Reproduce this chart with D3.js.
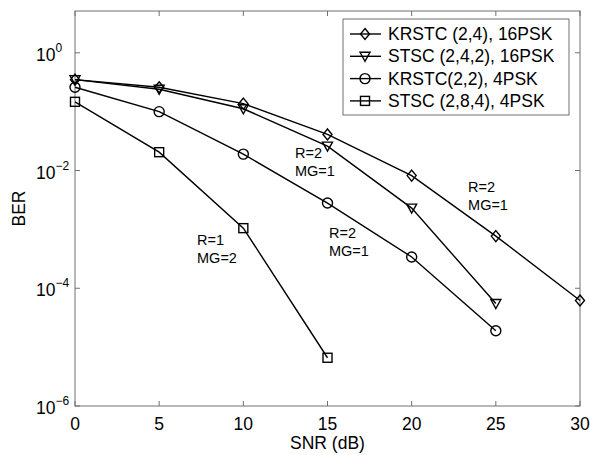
<!DOCTYPE html>
<html>
<head>
  <script src="https://d3js.org/d3.v7.min.js"></script>
  <style>
    body { margin: 0; background: #fff; }
    text { font-family: "Liberation Sans", Arial, sans-serif; fill: #000; }
  </style>
</head>
<body>
  <script>
    // SNR points (dB)
    var snr = [0, 5, 10, 15, 20, 25, 30];

    // BER values
    var krstc24 = [0.35, 0.26, 0.137, 0.041, 0.0082, 7.7e-4, 6.2e-5];
    var stsc242 = [0.35, 0.24, 0.112, 0.026, 2.3e-3, 5.5e-5];
    var krstc22 = [0.26, 0.10, 0.019, 2.8e-3, 3.4e-4, 1.9e-5];
    var stsc284 = [0.147, 0.0205, 1.05e-3, 6.6e-6];

    var seriesNames = ["KRSTC (2,4), 16PSK", "STSC (2,4,2), 16PSK", "KRSTC(2,2), 4PSK", "STSC (2,8,4), 4PSK"];
    var seriesMarkers = ["diamond", "triangle", "circle", "square"];
    var seriesValues = [krstc24, stsc242, krstc22, stsc284];

    var xTicks = [0, 5, 10, 15, 20, 25, 30];
    var yTickExps = [0, -2, -4, -6];

    // text notes: [snr, log10 BER of first baseline, line1, line2]
    var notes = [
      [13.07, -1.79, "R=2", "MG=1"],
      [23.35, -2.37, "R=2", "MG=1"],
      [15.09, -3.15, "R=2", "MG=1"],
      [7.25, -3.27, "R=1", "MG=2"]
    ];

    var W = 590, H = 455;
    var margin = {left: 75, right: 10, top: 11, bottom: 49};

    var svg = d3.select("body").append("svg")
      .attr("width", W).attr("height", H);

    var x = d3.scaleLinear().domain([0, 30]).range([margin.left, W - margin.right]);
    var y = d3.scaleLog().domain([1e-6, Math.pow(10, 0.71)]).range([H - margin.bottom, margin.top]);

    var x0 = x.range()[0], x1 = x.range()[1];
    var yb = y.range()[0], yt = y.range()[1];

    // axes box
    var axisColor = "#707070";
    svg.append("rect")
      .attr("x", x0).attr("y", yt)
      .attr("width", x1 - x0).attr("height", yb - yt)
      .attr("fill", "none").attr("stroke", axisColor).attr("stroke-width", 1);

    // x ticks (bottom and top, inward)
    xTicks.forEach(function(t){
      svg.append("line").attr("x1", x(t)).attr("x2", x(t)).attr("y1", yb).attr("y2", yb - 5)
        .attr("stroke", axisColor);
      svg.append("line").attr("x1", x(t)).attr("x2", x(t)).attr("y1", yt).attr("y2", yt + 5)
        .attr("stroke", axisColor);
      svg.append("text").attr("x", x(t)).attr("y", yb + 24)
        .attr("text-anchor", "middle").style("font-size", "17.5px").text(t);
    });

    // y ticks with 10^n labels
    yTickExps.forEach(function(e){
      var v = Math.pow(10, e);
      svg.append("line").attr("x1", x0).attr("x2", x0 + 5).attr("y1", y(v)).attr("y2", y(v))
        .attr("stroke", axisColor);
      svg.append("line").attr("x1", x1).attr("x2", x1 - 5).attr("y1", y(v)).attr("y2", y(v))
        .attr("stroke", axisColor);
      var t = svg.append("text").attr("x", 36).attr("y", y(v) + 8)
        .style("font-size", "17.5px");
      t.append("tspan").text("10");
      t.append("tspan").attr("dy", -9).style("font-size", "12px").text(e === 0 ? "0" : "\u2212" + (-e));
    });

    // axis titles
    svg.append("text").attr("x", (x0 + x1) / 2).attr("y", H - 6)
      .attr("text-anchor", "middle").style("font-size", "17.5px").text("SNR (dB)");
    svg.append("text")
      .attr("transform", "translate(25," + ((yt + yb) / 2) + ") rotate(-90)")
      .attr("text-anchor", "middle").style("font-size", "17.5px").text("BER");

    // marker shapes
    function drawMarker(g, kind, cx, cy) {
      if (kind === "diamond") {
        g.append("path").attr("d", "M" + cx + "," + (cy - 5.5) + "L" + (cx + 4.5) + "," + cy +
          "L" + cx + "," + (cy + 5.5) + "L" + (cx - 4.5) + "," + cy + "Z");
      } else if (kind === "triangle") {
        g.append("path").attr("d", "M" + (cx - 5) + "," + (cy - 4) + "L" + (cx + 5) + "," + (cy - 4) +
          "L" + cx + "," + (cy + 5) + "Z");
      } else if (kind === "circle") {
        g.append("circle").attr("cx", cx).attr("cy", cy).attr("r", 5);
      } else {
        g.append("rect").attr("x", cx - 4.5).attr("y", cy - 4.5).attr("width", 9).attr("height", 9);
      }
    }

    var line = d3.line()
      .x(function(d, i){ return x(snr[i]); })
      .y(function(d){ return y(d); });

    seriesValues.forEach(function(vals, k){
      var g = svg.append("g")
        .attr("fill", "none").attr("stroke", "#000").attr("stroke-width", 1.4);
      g.append("path").attr("d", line(vals));
      vals.forEach(function(v, i){ drawMarker(g, seriesMarkers[k], x(snr[i]), y(v)); });
    });

    // annotations
    notes.forEach(function(n){
      var nx = x(n[0]), ny = y(Math.pow(10, n[1]));
      svg.append("text").attr("x", nx).attr("y", ny).style("font-size", "14.5px").text(n[2]);
      svg.append("text").attr("x", nx).attr("y", ny + 17.5).style("font-size", "14.5px").text(n[3]);
    });

    // legend
    var lgX = 343, lgY = 19, lgW = 226, lgH = 96, rowH = 22.3;
    svg.append("rect").attr("x", lgX).attr("y", lgY).attr("width", lgW).attr("height", lgH)
      .attr("fill", "#fff").attr("stroke", axisColor);
    seriesNames.forEach(function(name, k){
      var ry = lgY + 15 + k * rowH;
      var g = svg.append("g").attr("fill", "none").attr("stroke", "#000").attr("stroke-width", 1.4);
      g.append("line").attr("x1", lgX + 7).attr("x2", lgX + 38).attr("y1", ry).attr("y2", ry);
      drawMarker(g, seriesMarkers[k], lgX + 22, ry);
      svg.append("text").attr("x", lgX + 45).attr("y", ry + 6).style("font-size", "17.5px").text(name);
    });
  </script>
</body>
</html>
